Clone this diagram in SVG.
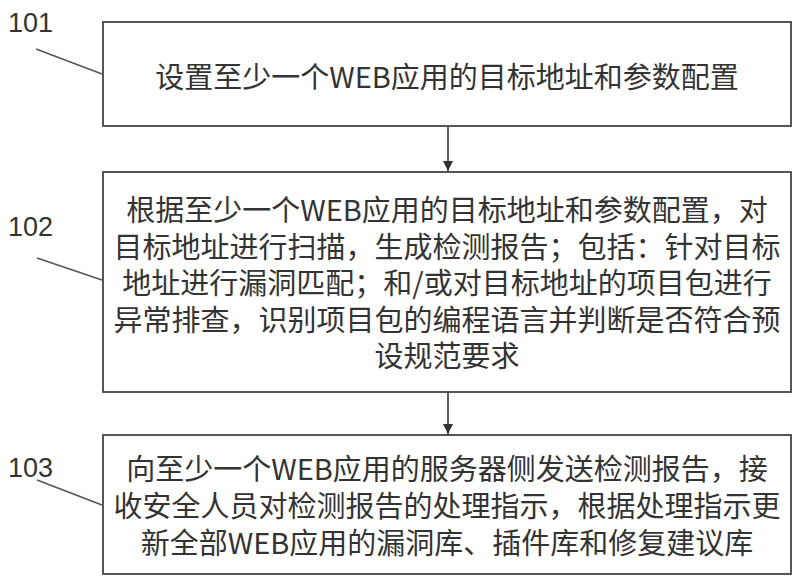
<svg xmlns="http://www.w3.org/2000/svg" width="800" height="582" viewBox="0 0 800 582">
<style>
.box{fill:#fff;stroke:#444;stroke-width:1.8}
.t{font-family:"Noto Sans CJK SC","Microsoft YaHei",sans-serif;font-size:29px;fill:#333;text-anchor:middle}
.lbl{font-family:"Liberation Sans",Arial,sans-serif;font-size:27px;fill:#333}
.lead{stroke:#555;stroke-width:1.6;fill:none}
.conn{stroke:#333;stroke-width:1.6;fill:none}
</style>
<defs>
<marker id="ah" viewBox="0 0 10 10" refX="10" refY="5" markerWidth="10" markerHeight="10" markerUnits="userSpaceOnUse" orient="auto">
<path d="M0,0 L10,5 L0,10 z" fill="#333"/>
</marker>
</defs>
<rect width="800" height="582" fill="#fff"/>
<g id="node101">
<rect class="box" x="103" y="22" width="688" height="104"/>
<text class="t" x="447" y="88">设置至少一个WEB应用的目标地址和参数配置</text>
<text class="lbl" x="8" y="32">101</text>
<line class="lead" x1="36" y1="49" x2="102" y2="74"/>
</g>
<g id="node102">
<rect class="box" x="103" y="172" width="688" height="220"/>
<text class="t" x="447" y="221">根据至少一个WEB应用的目标地址和参数配置，对</text>
<text class="t" x="447" y="258">目标地址进行扫描，生成检测报告；包括：针对目标</text>
<text class="t" x="447" y="294">地址进行漏洞匹配；和/或对目标地址的项目包进行</text>
<text class="t" x="447" y="331">异常排查，识别项目包的编程语言并判断是否符合预</text>
<text class="t" x="447" y="367">设规范要求</text>
<text class="lbl" x="8" y="236">102</text>
<line class="lead" x1="37" y1="258" x2="102" y2="280"/>
</g>
<g id="node103">
<rect class="box" x="103" y="435" width="688" height="139"/>
<text class="t" x="447" y="480">向至少一个WEB应用的服务器侧发送检测报告，接</text>
<text class="t" x="447" y="517">收安全人员对检测报告的处理指示，根据处理指示更</text>
<text class="t" x="447" y="554">新全部WEB应用的漏洞库、插件库和修复建议库</text>
<text class="lbl" x="8" y="477">103</text>
<line class="lead" x1="37" y1="480" x2="102" y2="505"/>
</g>
<g id="connectors">
<line class="conn" x1="448" y1="127" x2="448" y2="171" marker-end="url(#ah)"/>
<line class="conn" x1="448" y1="393" x2="448" y2="434" marker-end="url(#ah)"/>
</g>
</svg>
